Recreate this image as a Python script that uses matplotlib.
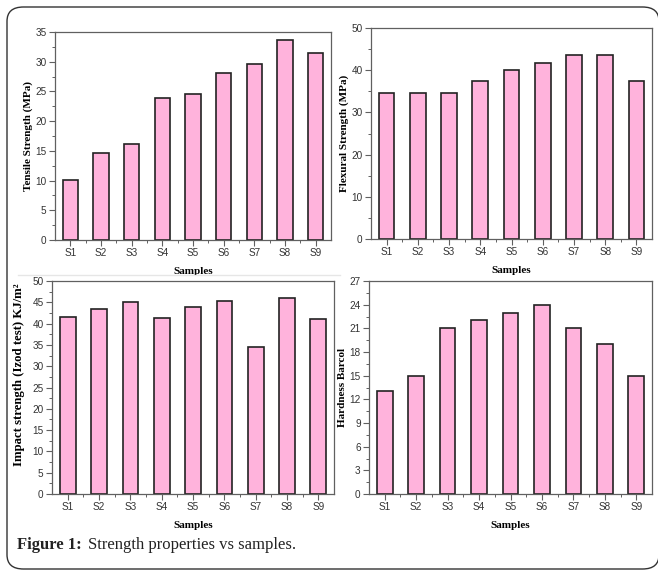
import matplotlib
matplotlib.use("Agg")
import matplotlib.pyplot as plt
from matplotlib.patches import FancyBboxPatch
from matplotlib.ticker import MultipleLocator, FixedLocator
from matplotlib.lines import Line2D

samples = ["S1", "S2", "S3", "S4", "S5", "S6", "S7", "S8", "S9"]
tensile = [10.1, 14.6, 16.2, 23.9, 24.5, 28.1, 29.6, 33.6, 31.4]
flexural = [34.5, 34.6, 34.7, 37.5, 40.1, 41.6, 43.6, 43.7, 37.5]
impact = [41.5, 43.5, 45.1, 41.2, 43.9, 45.2, 34.6, 45.9, 41.1]
hardness = [13, 15, 21, 22, 23, 24, 21, 19, 15]

W, H = 658, 570
fig = plt.figure(figsize=(W / 100, H / 100), dpi=100)

def rect(l, t, r, b):
    return [l / W, 1 - b / H, (r - l) / W, (b - t) / H]

panels = [
    (rect(55, 32, 331, 240), tensile, "Tensile Strength (MPa)", 35, 5, 8, None),
    (rect(371, 28, 652, 239), flexural, "Flexural Strength (MPa)", 50, 10, 8, None),
    (rect(52, 281, 334, 494), impact, "Impact strength (Izod test) KJ/m\u00b2", 50, 5, 9.2, (-0.095, 0.56)),
    (rect(369, 281, 652, 494), hardness, "Hardness Barcol", 27, 3, 8, None),
]

bar_color = "#ffb3dc"
edge = "#222222"
spine_col = "#606060"
serif = ["Liberation Serif", "DejaVu Serif"]
sans = ["Liberation Sans", "DejaVu Sans"]

for pos, vals, ylab, ymax, step, yfs, lc in panels:
    ax = fig.add_axes(pos)
    x = list(range(1, len(samples) + 1))
    ax.bar(x, vals, width=0.5, color=bar_color, edgecolor=edge, linewidth=1.2, zorder=2)
    ax.set_xlim(0.5, 9.5)
    ax.set_ylim(0, ymax)
    ax.set_xticks(x)
    ax.set_xticklabels(samples, fontsize=7.2, family=sans, color="#333333")
    ax.xaxis.set_minor_locator(FixedLocator([i + 0.5 for i in range(1, 9)]))
    ax.yaxis.set_major_locator(MultipleLocator(step))
    ax.yaxis.set_minor_locator(MultipleLocator(step / 2))
    for lab in ax.get_yticklabels():
        lab.set_fontsize(7.2)
        lab.set_family(sans)
        lab.set_color("#333333")
    ax.tick_params(axis="both", which="major", direction="out", length=4, width=0.8,
                   colors=spine_col, labelcolor="#333333", pad=2)
    ax.tick_params(axis="both", which="minor", direction="out", length=2, width=0.7,
                   colors=spine_col)
    for s in ax.spines.values():
        s.set_color(spine_col)
        s.set_linewidth(0.9)
    ax.set_ylabel(ylab, fontsize=yfs, family=serif, fontweight="bold", labelpad=2)
    if lc is not None:
        ax.yaxis.set_label_coords(*lc)
    ax.set_xlabel("Samples", fontsize=8, family=serif, fontweight="bold", labelpad=6)

# faint separator line between rows
fig.add_artist(Line2D([18 / W, 340 / W], [1 - 275 / H, 1 - 275 / H],
                      color="#e6e6e6", linewidth=1))

# rounded frame (right and bottom sides fall at/over the image edge)
frame = FancyBboxPatch((7 / W, 1 - 569 / H), (652) / W, (562) / H,
                       boxstyle="round,pad=0,rounding_size=0.025",
                       transform=fig.transFigure, fill=False,
                       edgecolor="#333333", linewidth=1.0)
fig.add_artist(frame)

fig.text(17 / W, 1 - 545 / H, "Figure 1:", fontsize=12, family=serif,
         fontweight="bold", va="center", ha="left", color="#222222")
fig.text(88 / W, 1 - 545 / H, "Strength properties vs samples.", fontsize=12,
         family=serif, va="center", ha="left", color="#222222")

fig.savefig("out.png", dpi=100)
